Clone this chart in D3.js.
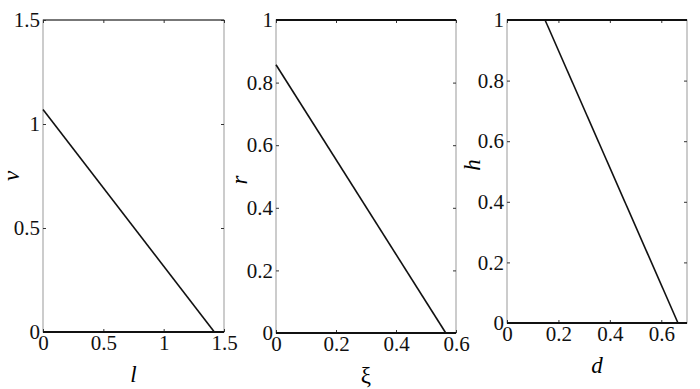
<!DOCTYPE html>
<html>
<head>
<meta charset="utf-8">
<script src="https://cdn.jsdelivr.net/npm/d3@7"></script>
<style>
  svg text { font-family: "Liberation Serif", "Times New Roman", serif !important; }
</style>
</head>
<body style="margin:0; background:#fff">
<svg id="fig" width="700" height="389"></svg>
<script>
// panel 1: v against l
var lVals = [0, 1.42], vVals = [1.07, 0];
var lTicks = [0, 0.5, 1, 1.5], vTicks = [0, 0.5, 1, 1.5];
var vFlat = [0];            // horizontal solution lines
// panel 2: r against xi
var xiVals = [0, 0.566], rVals = [0.857, 0];
var xiTicks = [0, 0.2, 0.4, 0.6], rTicks = [0, 0.2, 0.4, 0.6, 0.8, 1];
var rFlat = [0, 1];
// panel 3: h against d
var dVals = [0.148, 0.665], hVals = [1, 0];
var dTicks = [0, 0.2, 0.4, 0.6], hTicks = [0, 0.2, 0.4, 0.6, 0.8, 1];
var hFlat = [0, 1];

var svg = d3.select("#fig");

var panels = [
  {left: 43, right: 224, top: 20, bottom: 332, xd: [0, 1.5], yd: [0, 1.5],
   xs: lVals, ys: vVals, xt: lTicks, yt: vTicks, flat: vFlat,
   xlab: "l", ylab: "v", xi: true, ylx: 12, yly: 176},
  {left: 276, right: 456, top: 20, bottom: 333, xd: [0, 0.6], yd: [0, 1],
   xs: xiVals, ys: rVals, xt: xiTicks, yt: rTicks, flat: rFlat,
   xlab: "ξ", ylab: "r", xi: false, ylx: 240, yly: 180},
  {left: 507, right: 687, top: 20, bottom: 323, xd: [0, 0.7], yd: [0, 1],
   xs: dVals, ys: hVals, xt: dTicks, yt: hTicks, flat: hFlat,
   xlab: "d", ylab: "h", xi: true, ylx: 473, yly: 165}
];

panels.forEach(function(p) {
  var x = d3.scaleLinear().domain(p.xd).range([p.left, p.right]);
  var y = d3.scaleLinear().domain(p.yd).range([p.bottom, p.top]);
  var fmt = d3.format("~g");

  // box
  svg.append("rect")
    .attr("x", p.left).attr("y", p.top)
    .attr("width", p.right - p.left).attr("height", p.bottom - p.top)
    .attr("fill", "none").attr("stroke", "#999").attr("stroke-width", 1);
  svg.append("line")
    .attr("x1", p.left).attr("x2", p.right).attr("y1", p.top).attr("y2", p.top)
    .attr("stroke", "#222").attr("stroke-width", 1.2);

  // inward ticks on all four sides
  var axes = [
    {a: d3.axisBottom(x).tickValues(p.xt).tickFormat(fmt), t: "translate(0," + p.bottom + ")"},
    {a: d3.axisTop(x).tickValues(p.xt).tickFormat(""), t: "translate(0," + p.top + ")"},
    {a: d3.axisLeft(y).tickValues(p.yt).tickFormat(fmt), t: "translate(" + p.left + ",0)"},
    {a: d3.axisRight(y).tickValues(p.yt).tickFormat(""), t: "translate(" + p.right + ",0)"}
  ];
  axes.forEach(function(ax) {
    var g = svg.append("g").attr("transform", ax.t)
      .call(ax.a.tickSizeInner(-3).tickSizeOuter(0).tickPadding(3));
    g.attr("font-family", "Liberation Serif").attr("font-size", 21);
    g.select(".domain").remove();
    g.selectAll(".tick line").attr("stroke", "#333");
    g.selectAll("text").attr("fill", "#111");
  });

  // flat solution lines
  p.flat.forEach(function(v) {
    svg.append("line")
      .attr("x1", x(p.xd[0])).attr("x2", x(p.xd[1]))
      .attr("y1", y(v)).attr("y2", y(v))
      .attr("stroke", "#111").attr("stroke-width", 2.2);
  });

  // main line
  var pts = p.xs.map(function(d, i) { return [d, p.ys[i]]; });
  svg.append("path")
    .datum(pts)
    .attr("d", d3.line().x(function(d) { return x(d[0]); }).y(function(d) { return y(d[1]); }))
    .attr("fill", "none").attr("stroke", "#111").attr("stroke-width", 1.6);

  // axis labels
  svg.append("text")
    .attr("x", (p.left + p.right) / 2).attr("y", p.bottom + 50)
    .attr("text-anchor", "middle").attr("font-size", 23)
    .attr("font-style", p.xi ? "italic" : "normal")
    .text(p.xlab);
  svg.append("text")
    .attr("transform", "translate(" + (p.ylx + 7) + "," + p.yly + ") rotate(-90)")
    .attr("text-anchor", "middle").attr("font-size", 23)
    .attr("font-style", "italic")
    .text(p.ylab);
});
</script>
</body>
</html>
